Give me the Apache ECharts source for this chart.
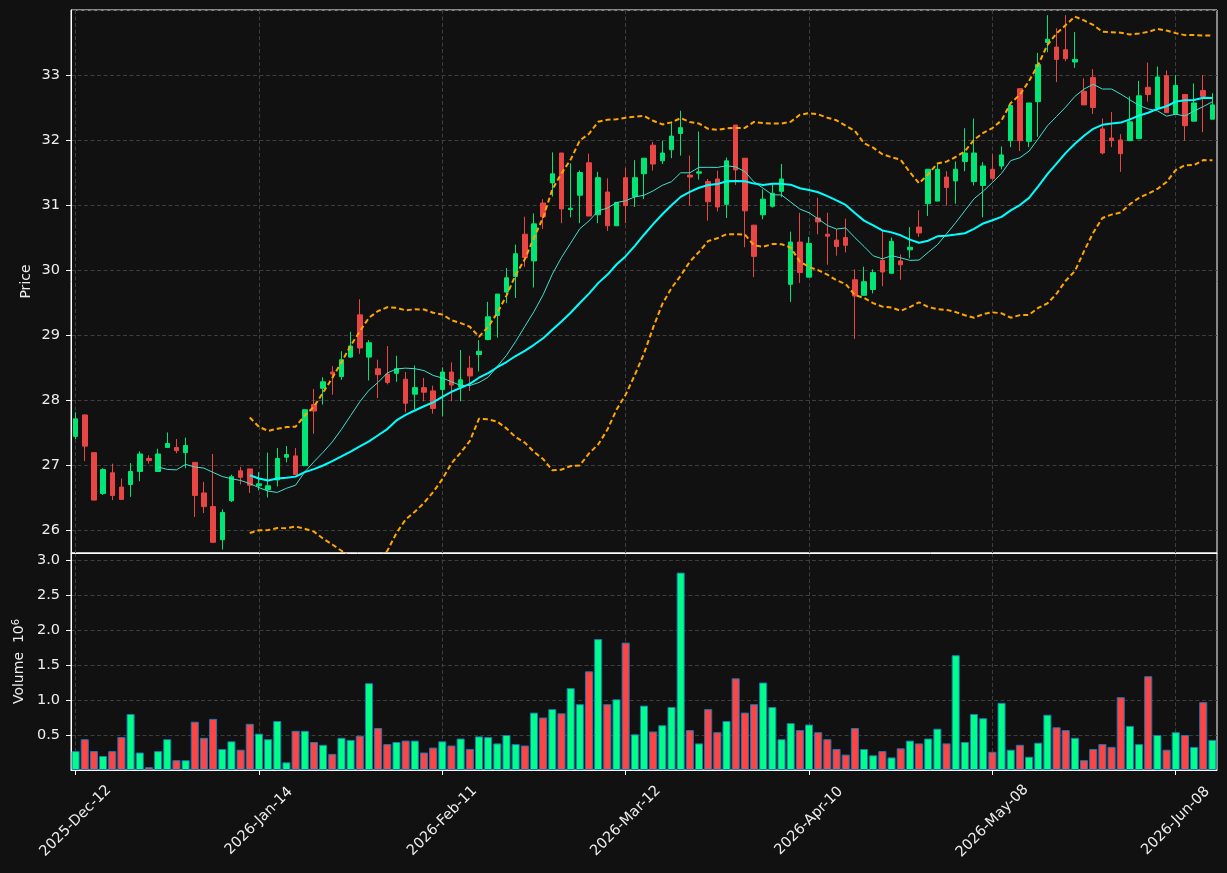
<!DOCTYPE html>
<html>
<head>
<meta charset="utf-8">
<script src="https://cdn.jsdelivr.net/npm/echarts@6/dist/echarts.min.js"></script>
<style>
  html, body { margin: 0; padding: 0; background: #111111; }
  #chart { width: 1227px; height: 873px; }
</style>
</head>
<body>
<div id="chart"></div>
<script>
// daily OHLC
const opens = [27.44,27.77,27.19,26.56,26.88,26.66,26.70,26.90,27.10,26.90,
  27.27,27.27,27.19,27.04,26.57,26.36,25.85,26.45,26.91,26.94,
  26.68,26.62,26.77,27.12,27.14,26.99,27.93,28.18,28.43,28.36,
  28.66,29.31,28.66,28.48,28.40,28.41,28.32,28.09,28.19,28.14,
  28.16,28.43,28.20,28.49,28.70,28.93,29.30,29.66,29.90,30.55,
  30.14,31.03,31.34,31.80,30.93,31.15,31.65,30.85,31.20,30.68,
  31.42,31.13,31.48,31.92,31.68,31.85,32.10,31.46,31.49,31.36,
  31.40,31.01,32.23,31.72,30.69,30.85,30.98,31.21,29.78,30.43,
  29.89,30.80,30.55,30.46,30.50,29.85,29.61,29.70,30.15,29.95,
  30.14,30.31,30.66,31.02,31.06,31.43,31.37,31.67,31.36,31.30,
  31.55,31.60,31.99,32.79,31.98,32.59,33.50,33.43,33.39,33.20,
  32.75,32.96,32.17,32.03,32.00,31.99,32.02,32.81,32.49,32.99,
  32.40,32.70,32.29,32.76,32.32];
const highs = [27.81,27.78,27.19,26.95,27.02,26.79,27.03,27.21,27.15,27.25,
  27.50,27.40,27.42,27.04,26.74,27.17,26.32,26.85,26.97,26.94,
  26.89,27.19,27.26,27.29,27.26,27.85,28.17,28.35,28.52,28.75,
  29.05,29.55,28.92,28.62,28.83,28.68,28.43,28.53,28.34,28.22,
  28.50,28.58,28.77,28.68,28.92,29.51,29.63,30.03,30.39,30.82,
  30.87,31.09,31.81,31.80,31.64,31.53,31.79,31.51,31.41,31.04,
  31.57,31.69,31.72,31.97,31.99,32.28,32.45,31.76,32.13,31.40,
  31.53,31.73,32.23,31.72,30.69,31.24,31.33,31.63,30.59,30.88,
  30.51,31.11,30.88,30.63,30.79,30.01,30.05,30.01,30.60,30.50,
  30.24,30.66,30.92,31.55,31.65,31.52,31.67,32.18,32.33,31.66,
  31.78,31.90,32.53,32.79,32.57,33.34,33.92,33.72,33.92,33.66,
  32.95,33.09,32.33,32.43,32.09,32.67,32.91,33.19,33.13,33.07,
  33.00,32.70,32.87,33.00,32.72];
const lows = [27.40,27.06,26.46,26.54,26.46,26.47,26.51,26.75,27.02,26.90,
  27.27,27.18,26.95,26.20,26.26,25.80,25.70,26.43,26.70,26.57,
  26.61,26.50,26.67,27.04,26.85,26.99,27.48,27.93,28.08,28.31,
  28.65,28.71,28.30,28.03,28.24,28.28,27.81,27.86,27.98,27.79,
  27.75,27.98,27.98,28.14,28.44,28.92,28.96,29.49,29.57,30.05,
  29.73,30.63,31.13,30.72,30.81,30.72,30.83,30.72,30.60,30.68,
  30.72,30.97,31.09,31.53,31.63,31.72,31.76,30.99,31.39,30.76,
  30.90,30.80,31.31,30.35,29.89,30.78,30.96,31.12,29.51,29.80,
  29.89,30.55,30.08,30.22,30.27,28.94,29.61,29.64,29.75,29.95,
  29.85,30.18,30.51,30.83,31.06,30.99,31.02,31.52,31.30,30.81,
  31.38,31.55,31.89,31.83,31.89,32.05,33.35,32.89,33.21,33.11,
  32.54,32.40,31.78,31.89,31.51,31.99,32.02,32.59,32.49,32.42,
  32.40,31.99,32.29,32.12,32.32];
const closes = [27.71,27.29,26.46,26.93,26.53,26.47,26.90,27.17,27.07,27.17,
  27.33,27.22,27.30,26.53,26.36,25.81,26.27,26.82,26.81,26.69,
  26.71,26.68,27.10,27.16,26.85,27.85,27.83,28.28,28.40,28.62,
  28.83,28.80,28.88,28.39,28.27,28.48,27.95,28.19,28.12,27.87,
  28.43,28.23,28.31,28.37,28.75,29.28,29.63,29.88,30.25,30.19,
  30.71,30.82,31.48,30.94,30.95,31.50,30.83,31.42,30.68,31.04,
  30.99,31.42,31.72,31.63,31.80,32.06,32.19,31.43,31.51,31.05,
  30.97,31.68,31.54,30.91,30.21,31.09,31.18,31.40,30.43,29.96,
  30.41,30.74,30.52,30.36,30.38,29.60,29.82,29.96,29.97,30.44,
  30.08,30.35,30.57,31.55,31.55,31.27,31.55,31.80,31.80,31.60,
  31.41,31.77,32.53,31.99,32.57,33.16,33.55,33.24,33.25,33.24,
  32.54,32.50,31.80,31.99,31.79,32.28,32.68,32.70,32.97,32.42,
  32.84,32.22,32.57,32.67,32.54];
// volume in millions
const volumes = [0.27,0.44,0.27,0.20,0.27,0.47,0.80,0.25,0.04,0.27,
  0.44,0.14,0.14,0.69,0.46,0.73,0.30,0.41,0.29,0.66,
  0.52,0.44,0.70,0.11,0.56,0.56,0.40,0.36,0.23,0.46,
  0.43,0.49,1.24,0.60,0.37,0.40,0.42,0.42,0.25,0.32,
  0.41,0.35,0.45,0.30,0.48,0.47,0.38,0.50,0.37,0.35,
  0.82,0.75,0.87,0.81,1.17,0.94,1.41,1.87,0.94,1.01,
  1.82,0.51,0.92,0.55,0.64,0.90,2.82,0.57,0.38,0.87,
  0.54,0.70,1.31,0.82,0.94,1.25,0.90,0.44,0.67,0.57,
  0.65,0.54,0.44,0.30,0.22,0.60,0.30,0.21,0.27,0.18,
  0.31,0.42,0.38,0.45,0.59,0.38,1.64,0.40,0.80,0.74,
  0.26,0.96,0.29,0.36,0.19,0.39,0.79,0.61,0.57,0.46,
  0.14,0.30,0.37,0.33,1.04,0.63,0.37,1.34,0.50,0.29,
  0.54,0.50,0.33,0.97,0.43];

const startDate = '2025-12-12';
const holidays = ['2025-12-25','2025-12-26','2026-01-01','2026-02-16','2026-04-03','2026-05-25'];

const UP = '#00e676', DOWN = '#e84545';
const VOL_UP = '#00ff88', VOL_DOWN = '#ff4444';
const GRID_LINE = { show: true, lineStyle: { color: '#3d3d3d', type: [4, 2.5], width: 1 } };
const TXT = '#eeeeee';
const FONT = 'DejaVu Sans';

// trading days -> labels like 2026-Jan-14
const MONTHS = ['Jan','Feb','Mar','Apr','May','Jun','Jul','Aug','Sep','Oct','Nov','Dec'];
const dates = [];
let d = new Date(startDate + 'T00:00:00Z');
while (dates.length < closes.length) {
  const iso = d.toISOString().slice(0, 10);
  const wd = d.getUTCDay();
  if (wd !== 0 && wd !== 6 && holidays.indexOf(iso) < 0) {
    dates.push(d.getUTCFullYear() + '-' + MONTHS[d.getUTCMonth()] + '-' + iso.slice(8, 10));
  }
  d = new Date(d.getTime() + 86400000);
}

function sma(arr, n) {
  return arr.map((v, i) => {
    if (i < n - 1) return '-';
    let s = 0;
    for (let j = i - n + 1; j <= i; j++) s += arr[j];
    return s / n;
  });
}
function bands(arr, n, k) {
  const mid = sma(arr, n);
  const up = [], lo = [];
  arr.forEach((v, i) => {
    if (i < n - 1) { up.push('-'); lo.push('-'); return; }
    let ss = 0;
    for (let j = i - n + 1; j <= i; j++) ss += (arr[j] - mid[i]) * (arr[j] - mid[i]);
    const sd = Math.sqrt(ss / n);
    up.push(mid[i] + k * sd);
    lo.push(mid[i] - k * sd);
  });
  return { up, lo };
}

const ma10 = sma(closes, 10);
const ma20 = sma(closes, 20);
const bb = bands(closes, 20, 2);

const candleData = closes.map((c, i) => [opens[i], c, lows[i], highs[i]]);
const volData = volumes.map((v, i) => ({
  value: v,
  itemStyle: { color: closes[i] >= opens[i] ? VOL_UP : VOL_DOWN }
}));

const chart = echarts.init(document.getElementById('chart'), null, { renderer: 'canvas' });

const xBase = {
  type: 'category',
  data: dates,
  boundaryGap: true,
  axisLine: { show: true, lineStyle: { color: '#ffffff', width: 1 } },
  splitLine: Object.assign({ interval: 19, alignWithLabel: true }, GRID_LINE)
};

const option = {
  backgroundColor: '#111111',
  animation: false,
  textStyle: { fontFamily: FONT },
  grid: [
    { left: 71, right: 10, top: 10, height: 543, show: true, borderColor: '#ffffff', borderWidth: 1, backgroundColor: '#111111' },
    { left: 71, right: 10, top: 553, height: 217, show: true, borderColor: '#ffffff', borderWidth: 1, backgroundColor: '#111111' }
  ],
  xAxis: [
    Object.assign({}, xBase, {
      gridIndex: 0,
      axisLabel: { show: false },
      axisTick: { show: false }
    }),
    Object.assign({}, xBase, {
      gridIndex: 1,
      axisTick: { show: true, interval: 19, alignWithLabel: true, length: 5, lineStyle: { color: '#ffffff' } },
      axisLabel: {
        interval: 19, rotate: 45, align: 'center', verticalAlign: 'middle', margin: 51,
        color: TXT, fontSize: 14.5, fontFamily: FONT
      }
    })
  ],
  yAxis: [
    {
      type: 'value', gridIndex: 0, min: 25.646, max: 34.0,
      splitNumber: 8, minInterval: 1, maxInterval: 1,
      name: 'Price', nameLocation: 'middle', nameGap: 38, nameMoveOverlap: false,
      nameTextStyle: { color: TXT, fontSize: 14, fontFamily: FONT },
      axisLine: { show: true, lineStyle: { color: '#ffffff' } },
      axisTick: { show: true, length: 5, lineStyle: { color: '#ffffff' } },
      axisLabel: {
        color: TXT, fontSize: 14.5, fontFamily: FONT, margin: 11,
        showMinLabel: false, showMaxLabel: false,
        formatter: v => Math.abs(v - Math.round(v)) < 1e-6 ? String(Math.round(v)) : ''
      },
      splitLine: GRID_LINE
    },
    {
      type: 'value', gridIndex: 1, min: 0, max: 3.1, interval: 0.5,
      name: 'Volume  10{sup|6}', nameLocation: 'middle', nameGap: 44, nameMoveOverlap: false,
      nameTextStyle: {
        color: TXT, fontSize: 14, fontFamily: FONT,
        rich: { sup: { color: TXT, fontSize: 10, fontFamily: FONT, verticalAlign: 'top', padding: [0, 0, 6, 0] } }
      },
      axisLine: { show: true, lineStyle: { color: '#ffffff' } },
      axisTick: { show: true, length: 5, lineStyle: { color: '#ffffff' } },
      axisLabel: {
        color: TXT, fontSize: 14.5, fontFamily: FONT, margin: 11,
        showMinLabel: false, showMaxLabel: false,
        formatter: v => v.toFixed(1)
      },
      splitLine: GRID_LINE
    }
  ],
  series: [
    {
      type: 'candlestick', xAxisIndex: 0, yAxisIndex: 0,
      data: candleData, barWidth: 5,
      itemStyle: { color: UP, color0: DOWN, borderColor: UP, borderColor0: DOWN, borderWidth: 1 }
    },
    {
      type: 'line', xAxisIndex: 0, yAxisIndex: 0, data: ma10,
      symbol: 'none', lineStyle: { color: '#40e0d0', width: 1 }
    },
    {
      type: 'line', xAxisIndex: 0, yAxisIndex: 0, data: ma20,
      symbol: 'none', lineStyle: { color: '#00ffff', width: 2 }
    },
    {
      type: 'line', xAxisIndex: 0, yAxisIndex: 0, data: bb.up,
      symbol: 'none', lineStyle: { color: '#ffa500', width: 2, type: [5, 3] }
    },
    {
      type: 'line', xAxisIndex: 0, yAxisIndex: 0, data: bb.lo,
      symbol: 'none', lineStyle: { color: '#ffa500', width: 2, type: [5, 3] }
    },
    {
      type: 'bar', xAxisIndex: 1, yAxisIndex: 1, data: volData,
      barWidth: '88%',
      itemStyle: { borderColor: '#1f77b4', borderWidth: 1 }
    }
  ]
};

chart.setOption(option);
</script>
</body>
</html>
